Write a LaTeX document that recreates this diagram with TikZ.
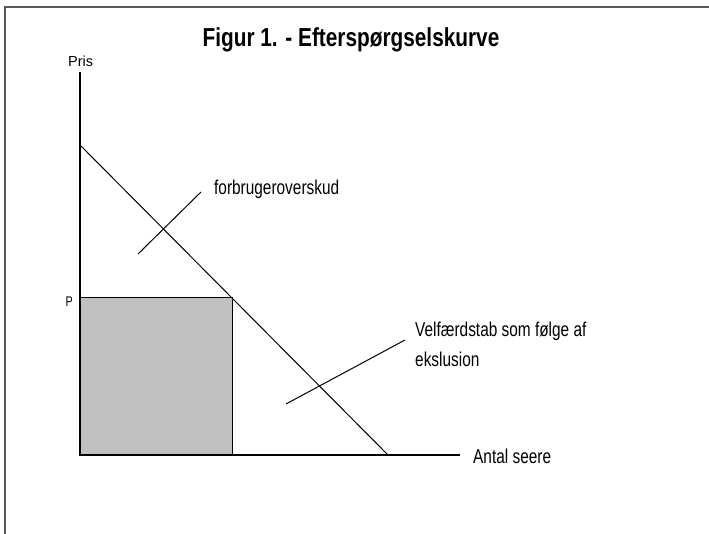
\documentclass[tikz,border=0pt]{standalone}
\usepackage{fontspec}
\newfontfamily\lblfont[FakeStretch=0.77]{Liberation Sans}
\newfontfamily\ttlfont[FakeStretch=0.8]{Liberation Sans}
\newfontfamily\axfont{Liberation Sans}
\definecolor{surplusgray}{RGB}{192,192,192}
\begin{document}
\begin{tikzpicture}[x=1pt,y=-1pt,
  lbl/.style={inner sep=0pt,font=\lblfont\fontsize{20}{30}\selectfont},
  axlbl/.style={inner sep=0pt,font=\axfont\fontsize{14.5}{16}\selectfont}]
\useasboundingbox (0,0) rectangle (709,534);
\draw[line width=2pt,black!65] (5,534) -- (5,7) -- (709,7);
% title
\node[inner sep=0pt,anchor=base,font=\ttlfont\bfseries\fontsize{26}{30}\selectfont] (title) at (351,47) {Figur 1. - Efterspørgselskurve};
% axes
\coordinate (O) at (80,455);
\coordinate (ytop) at (80,72);
\coordinate (xend) at (460,455);
\fill[surplusgray] (80,298) rectangle (232,455);
\draw[line width=1pt] (80,298) -- (232,298) -- (232,455);
\draw[line width=1.3pt] (ytop) -- (O) -- (xend);
% demand curve
\coordinate (dA) at (80,145);
\coordinate (dB) at (388,455);
\draw[line width=1pt] (dA) -- (dB);
% labels
\node[axlbl,anchor=base west] (pris) at (68,67) {Pris};
\node[lbl,font=\lblfont\fontsize{14}{16}\selectfont,anchor=base east] (plbl) at (73,307) {P};
\node[lbl,anchor=base west] (antal) at (473,463) {Antal seere};
\node[lbl,anchor=base west] (cs) at (214,195) {forbrugeroverskud};
\node[lbl,anchor=north west,align=left] (dwl) at (415,322) {Velfærdstab som følge af\\ekslusion};
% pointers
\coordinate (csA) at (138,254);
\coordinate (csB) at (201,192);
\draw[line width=1pt] (csA) -- (csB);
\coordinate (dwA) at (286,404);
\coordinate (dwB) at (405,340);
\draw[line width=1pt] (dwA) -- (dwB);
\end{tikzpicture}
\end{document}
